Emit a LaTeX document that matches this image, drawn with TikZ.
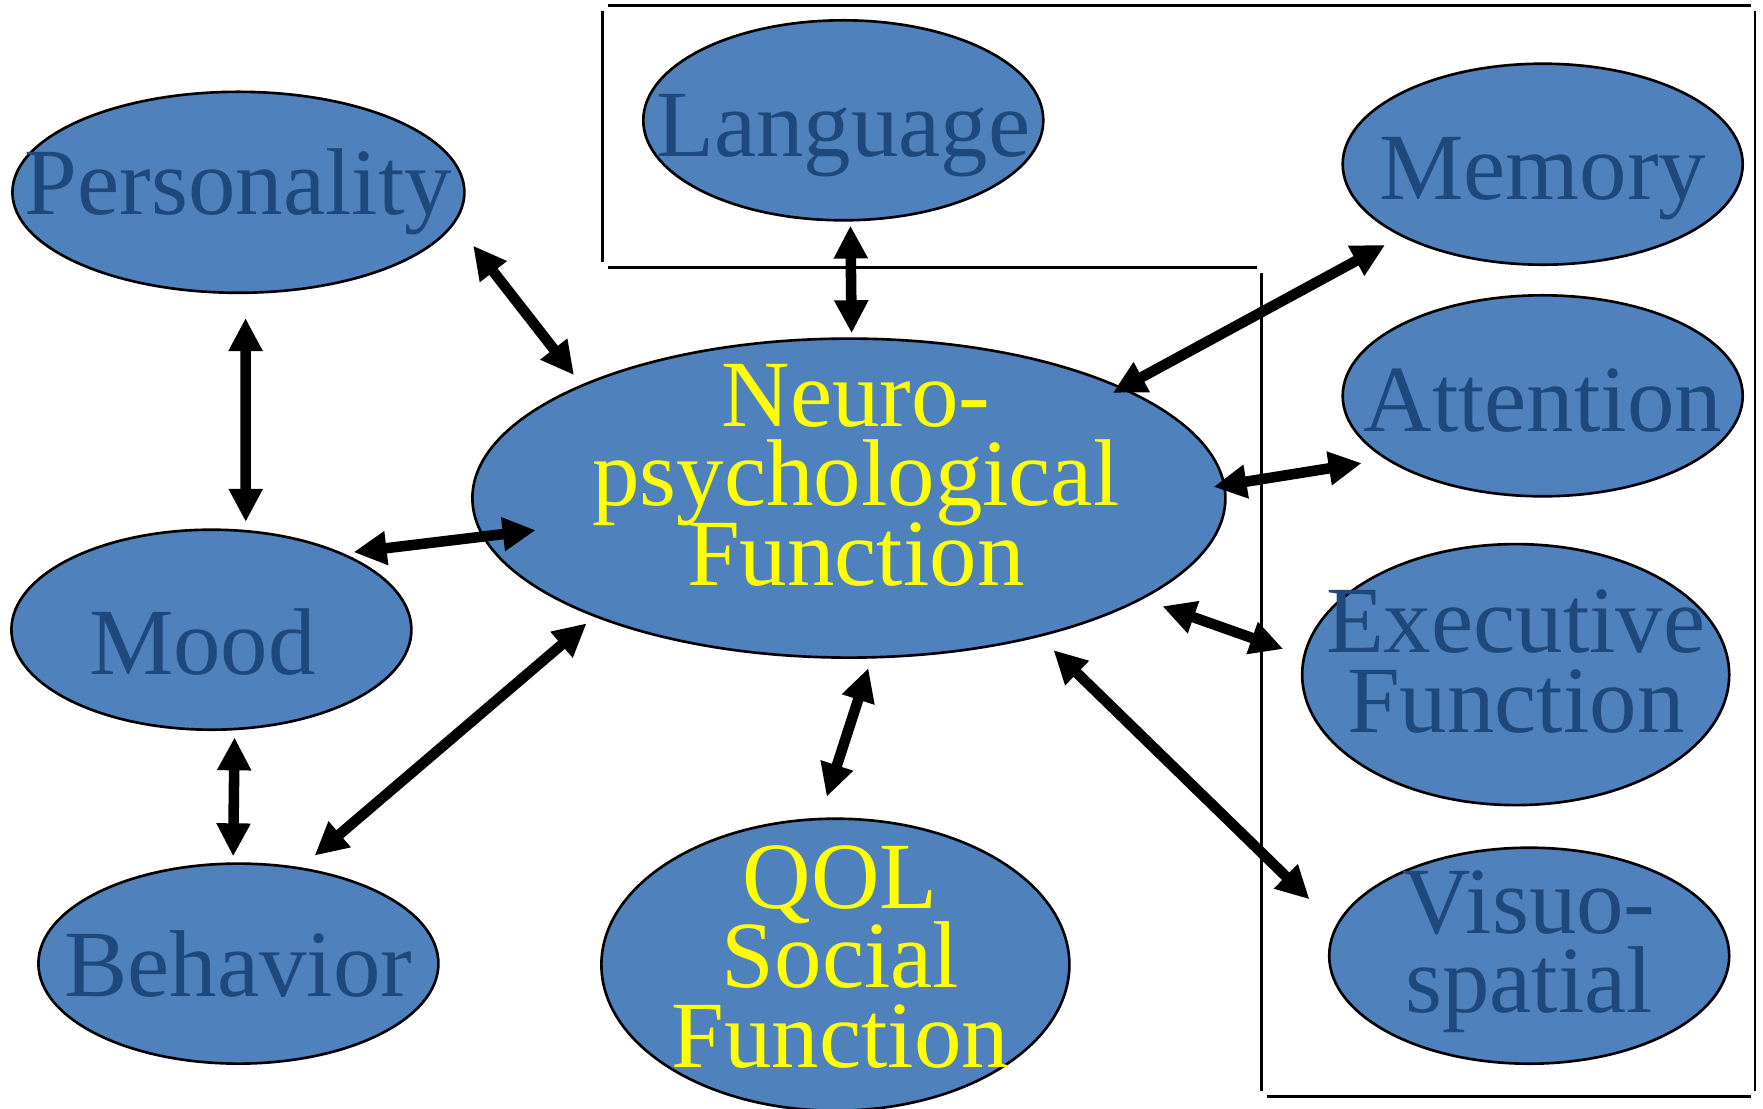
\documentclass[tikz,border=0pt]{standalone}
\usepackage{fontspec}
\setmainfont{Liberation Serif}
\usepackage{tikz}
\usetikzlibrary{arrows.meta, shapes.geometric, positioning, calc}
\definecolor{ovFill}{HTML}{4F81BD}
\definecolor{ovNavy}{HTML}{1F497D}
\definecolor{ovYellow}{HTML}{FFFF00}
\newcommand{\ovfont}{\fontsize{27}{22.6}\selectfont\lineskiplimit=-40pt\relax}

\begin{document}
\begin{tikzpicture}[
    oval/.style={ellipse, draw=black, line width=0.75pt, fill=ovFill, inner sep=0pt},
    word/.style={align=center, inner sep=0pt, text=ovNavy, font=\ovfont},
    hiword/.style={word, text=ovYellow},
    link/.style={<->, >={Triangle[length=0.33cm, width=0.32cm]}, line width=3pt},
    frame/.style={line width=0.75pt}]
  \path[use as bounding box, clip] (0,0) rectangle (17.63,-11.08);

  % frame lines round the cognitive domains
  \draw[frame] (6.08,-0.053) -- (17.51,-0.053);
  \draw[frame] (6.027,-0.11) -- (6.027,-2.623);
  \draw[frame] (6.08,-2.673) -- (12.567,-2.673);
  \draw[frame] (12.617,-2.733) -- (12.617,-10.907);
  \draw[frame] (12.673,-10.963) -- (17.51,-10.963);
  \draw[frame] (17.55,-0.11) -- (17.55,-10.907);

  % ovals
  \node[oval, minimum width=4.52cm, minimum height=2.01cm] (pers) at (2.384,-1.923) {};
  \node[oval, minimum width=4.00cm, minimum height=2.00cm] (lang) at (8.433,-1.203) {};
  \node[oval, minimum width=4.00cm, minimum height=2.01cm] (mem) at (15.427,-1.642) {};
  \node[oval, minimum width=4.00cm, minimum height=2.01cm] (att) at (15.427,-3.958) {};
  \node[oval, minimum width=4.27cm, minimum height=2.61cm] (exec) at (15.157,-6.746) {};
  \node[oval, minimum width=4.00cm, minimum height=2.16cm] (visuo) at (15.292,-9.557) {};
  \node[oval, minimum width=7.53cm, minimum height=3.19cm] (neuro) at (8.489,-4.981) {};
  \node[oval, minimum width=4.00cm, minimum height=2.00cm] (mood) at (2.114,-6.297) {};
  \node[oval, minimum width=4.00cm, minimum height=2.00cm] (beh) at (2.384,-9.636) {};
  \node[oval, minimum width=4.68cm, minimum height=2.92cm] (qol) at (8.354,-9.647) {};

  % labels
  \node[word] (persT) at (pers) {Personality};
  \node[word] (langT) at ([yshift=-0.15cm]lang) {Language};
  \node[word] (memT) at ([yshift=-0.14cm]mem) {Memory};
  \node[word] (attT) at ([yshift=-0.05cm]att) {Attention};
  \node[word] (execT) at ([yshift=0.13cm]exec) {Executive\\Function};
  \node[word] (visuoT) at ([yshift=0.04cm]visuo) {Visuo-\\spatial};
  \node[hiword] (neuroT) at ([shift={(0.07,0.23)}]neuro) {Neuro-\\psychological\\Function};
  \node[word] (moodT) at ([shift={(-0.09,-0.125)}]mood) {Mood};
  \node[word] (behT) at (beh) {Behavior};
  \node[hiword] (qolT) at ([shift={(0.05,0.08)}]qol) {QOL\\Social\\Function};

  % two-way links
  \draw[link, shorten <=0.24cm, shorten >=0.08cm] (pers.-86.8) -- (mood.71.7);
  \draw[link, shorten <=0.29cm, shorten >=0.12cm] (pers.-8.1) -- (neuro.157.9);
  \draw[link, shorten <=0.04cm, shorten >=0.04cm] (lang.-86.2) -- (neuro.89.6);
  \draw[link, shorten <=0.18cm, shorten >=-0.115cm] (mem.207.7) -- (neuro.22.5);
  \draw[link, shorten <=0.24cm, shorten >=-0.12cm] (att.202.1) -- (neuro.2.85);
  \draw[link, shorten <=0.21cm, shorten >=0.21cm] (exec.175.8) -- (neuro.-19.4);
  \draw[link, shorten <=0.37cm, shorten >=0.19cm] (visuo.171.2) -- (neuro.-36.7);
  \draw[link, shorten <=0.22cm, shorten >=0.10cm] (qol.96.3) -- (neuro.-82.1);
  \draw[link, shorten <=0.18cm, shorten >=0.10cm] (beh.57.3) -- (neuro.205.5);
  \draw[link, shorten <=0.10cm, shorten >=-0.54cm] (mood.30.1) -- (neuro.186.5);
  \draw[link, shorten <=0.07cm, shorten >=0.06cm] (mood.-77.7) -- (beh.93.1);
\end{tikzpicture}
\end{document}
